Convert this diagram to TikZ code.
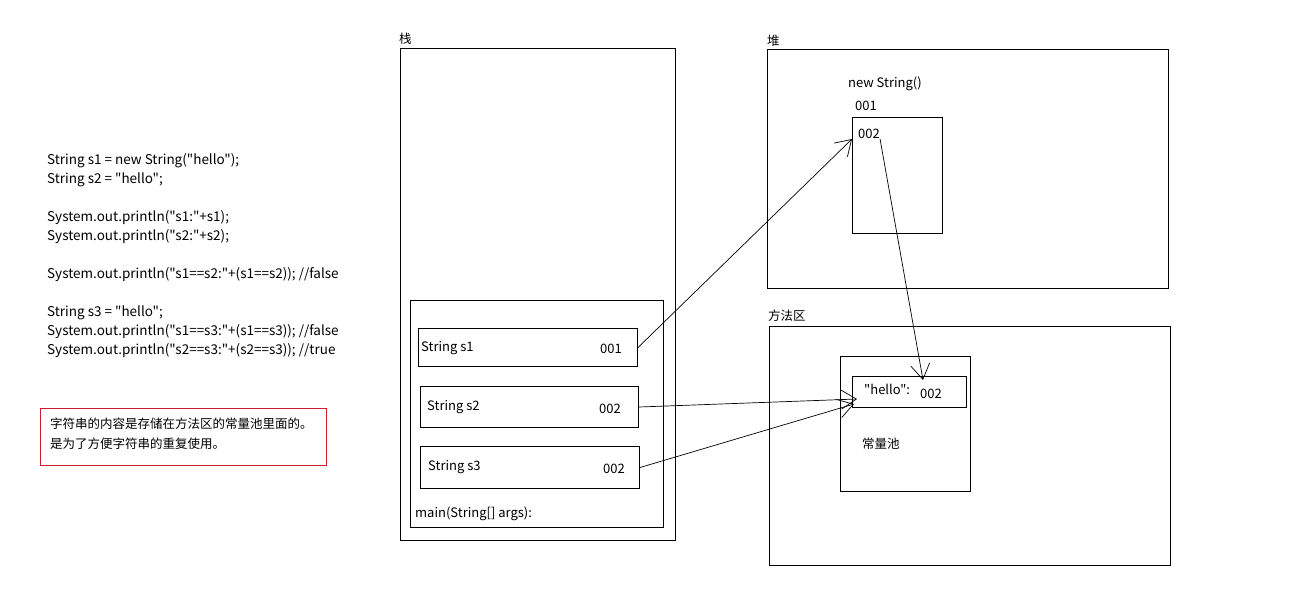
\documentclass[tikz,border=0pt]{standalone}
\usepackage{fontspec}
\setmainfont{Noto Sans CJK SC}[Ligatures=TeXOff]
\usetikzlibrary{arrows.meta}
\definecolor{notered}{RGB}{200,30,45}

\begin{document}
\begin{tikzpicture}[x=1pt,y=-1pt,
    box/.style={draw,line width=1pt,anchor=north west,inner sep=0pt},
    txt/.style={anchor=west,inner sep=0pt,font=\fontsize{13}{15}\selectfont},
    cjktxt/.style={anchor=west,inner sep=0pt,font=\fontsize{12.5}{15}\selectfont},
    ptr/.style={-{Straight Barb[length=15pt,width=19pt]},line width=0.7pt}]

    \useasboundingbox (0,0) rectangle (1297,600);

    % --- Code on the left ---
    \node[txt,anchor=north west,align=left,font=\fontsize{13.5}{19}\selectfont] (code) at (47,153)
        {String s1 = new String("hello");\\
         String s2 = "hello";\\[19pt]
         System.out.println("s1:"+s1);\\
         System.out.println("s2:"+s2);\\[19pt]
         System.out.println("s1==s2:"+(s1==s2)); //false\\[19pt]
         String s3 = "hello";\\
         System.out.println("s1==s3:"+(s1==s3)); //false\\
         System.out.println("s2==s3:"+(s2==s3)); //true};

    % --- Note in red frame ---
    \node[box,draw=notered,minimum width=286pt,minimum height=57pt] (note) at (40,408) {};
    \node[cjktxt,anchor=north west,align=left,font=\fontsize{12.5}{20}\selectfont] (notetext) at (50,418)
        {字符串的内容是存储在方法区的常量池里面的。\\是为了方便字符串的重复使用。};

    % --- Stack ---
    \node[cjktxt] (stackname) at (399,39) {栈};
    \node[box,minimum width=275pt,minimum height=492pt] (stack) at (400,48) {};
    \node[box,minimum width=253pt,minimum height=227pt] (mainframe) at (410,300) {};
    \node[box,minimum width=219pt,minimum height=38pt] (s1) at (418,328) {};
    \node[box,minimum width=218pt,minimum height=41pt] (s2) at (420,386) {};
    \node[box,minimum width=219pt,minimum height=42pt] (s3) at (420,446) {};
    \node[txt] (s1name) at (421,348) {String s1};
    \node[txt] (s1val) at (600,349) {001};
    \node[txt] (s2name) at (427,407) {String s2};
    \node[txt] (s2val) at (599,409) {002};
    \node[txt] (s3name) at (428,467) {String s3};
    \node[txt] (s3val) at (603,469) {002};
    \node[txt] (mainname) at (415,514) {main(String[] args):};

    % --- Heap ---
    \node[cjktxt] (heapname) at (767,41) {堆};
    \node[box,minimum width=401pt,minimum height=239pt] (heap) at (767,49) {};
    \node[txt] (objname) at (848,84) {new String()};
    \node[txt] (objaddr) at (855,106) {001};
    \node[box,minimum width=90pt,minimum height=116pt] (obj) at (852,117) {};
    \node[txt] (objval) at (858,134) {002};

    % --- Method area ---
    \node[cjktxt] (methodname) at (768,316) {方法区};
    \node[box,minimum width=401pt,minimum height=239pt] (method) at (769,326) {};
    \node[box,minimum width=130pt,minimum height=135pt] (pool) at (840,356) {};
    \node[box,minimum width=114pt,minimum height=31pt] (hello) at (852,376) {};
    \node[txt] (hellotext) at (864,389) {"hello":};
    \node[txt] (poolval) at (920,394) {002};
    \node[cjktxt] (poolname) at (862,444) {常量池};

    % --- Pointers ---
    \coordinate (objin) at (852,139);
    \coordinate (poolin) at (923,380);
    \coordinate (helloin) at (857,399);
    \coordinate (helloin2) at (854,404);
    \draw[ptr] (s1.east) -- (objin);
    \draw[ptr] (objval.south east) -- (poolin);
    \draw[ptr] (s2.east) -- (helloin);
    \draw[ptr] (s3.east) -- (helloin2);

\end{tikzpicture}
\end{document}
